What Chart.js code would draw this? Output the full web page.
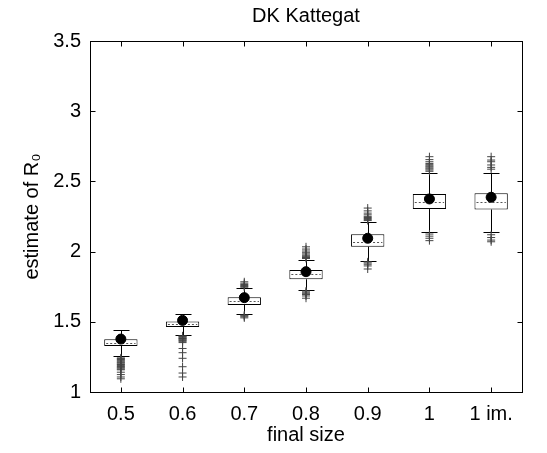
<!DOCTYPE html>
<html>
<head>
  <meta charset="UTF-8">
  <title>DK Kattegat</title>
  <script src="https://cdn.jsdelivr.net/npm/chart.js@4/dist/chart.umd.min.js"></script>
  <style>
    body { margin: 0; background: #fff; }
    #wrap { width: 547px; height: 453px; }
  </style>
</head>
<body>
  <div id="wrap"><canvas id="chartBox" width="547" height="453"></canvas></div>

  <script>
    // final size categories
    const categories = ["0.5", "0.6", "0.7", "0.8", "0.9", "1", "1 im."];
    const yTicks = [1, 1.5, 2, 2.5, 3, 3.5];
    const chartTitle = "DK Kattegat";

    // box statistics (estimate of R0)
    const q1 = [1.328, 1.463, 1.620, 1.803, 2.035, 2.303, 2.300];
    const median = [1.351, 1.482, 1.646, 1.838, 2.070, 2.355, 2.355];
    const q3 = [1.375, 1.503, 1.674, 1.869, 2.123, 2.410, 2.415];
    const whiskerLow = [1.256, 1.406, 1.556, 1.726, 1.935, 2.140, 2.140];
    const whiskerHigh = [1.440, 1.558, 1.739, 1.940, 2.213, 2.560, 2.558];
    const means = [1.377, 1.510, 1.672, 1.857, 2.095, 2.375, 2.387];

    // outliers per category
    const outliers = [
      [1.243, 1.238, 1.231, 1.226, 1.219, 1.212, 1.207, 1.200, 1.196, 1.188, 1.181, 1.176, 1.170, 1.163, 1.158, 1.141, 1.124, 1.107, 1.094],
      [1.400, 1.396, 1.391, 1.386, 1.381, 1.377, 1.372, 1.366, 1.361, 1.352, 1.310, 1.280, 1.240, 1.180, 1.135, 1.107],
      [1.746, 1.752, 1.758, 1.766, 1.775, 1.785, 1.548, 1.543, 1.536, 1.528],
      [1.951, 1.958, 1.966, 1.974, 1.983, 1.992, 2.004, 2.018, 2.034, 1.719, 1.711, 1.703, 1.694, 1.684, 1.668],
      [2.221, 2.228, 2.236, 2.243, 2.251, 2.262, 2.274, 2.290, 2.310, 1.927, 1.919, 1.910, 1.898, 1.876],
      [2.572, 2.581, 2.589, 2.596, 2.604, 2.611, 2.619, 2.628, 2.640, 2.655, 2.676, 2.125, 2.110, 2.095, 2.078],
      [2.587, 2.600, 2.617, 2.640, 2.652, 2.676, 2.120, 2.100, 2.082, 2.070]
    ];

    const fontFamily = "'Liberation Sans', Arial, Helvetica, sans-serif";
    const fontSize = 20;

    const outlierPoints = [];
    outliers.forEach((list, i) => {
      list.forEach(v => outlierPoints.push({ x: categories[i], y: v }));
    });
    const meanPoints = means.map((v, i) => ({ x: categories[i], y: v }));
    const boxRanges = categories.map((c, i) => [q1[i], q3[i]]);

    const boxParts = {
      id: "boxParts",
      beforeDatasetsDraw(chart) {
        const { ctx, scales: { x, y } } = chart;
        ctx.save();
        ctx.strokeStyle = "#000";
        ctx.lineWidth = 1;
        const capHalf = 8;
        categories.forEach((c, i) => {
          const px = Math.round(x.getPixelForValue(i)) + 0.5;
          const segs = [
            [q3[i], whiskerHigh[i]],
            [q1[i], whiskerLow[i]]
          ];
          segs.forEach(([a, b]) => {
            const ya = y.getPixelForValue(a);
            const yb = Math.round(y.getPixelForValue(b)) + 0.5;
            ctx.beginPath();
            ctx.moveTo(px, ya);
            ctx.lineTo(px, yb);
            ctx.moveTo(px - capHalf, yb);
            ctx.lineTo(px + capHalf, yb);
            ctx.stroke();
          });
        });
        ctx.restore();
      },
      afterDatasetDraw(chart, args) {
        if (args.index !== 0) return;
        const { ctx, scales: { y } } = chart;
        const meta = chart.getDatasetMeta(0);
        ctx.save();
        ctx.strokeStyle = "#555";
        ctx.lineWidth = 1;
        ctx.setLineDash([2, 2]);
        meta.data.forEach((bar, i) => {
          const half = bar.width / 2;
          const py = Math.round(y.getPixelForValue(median[i])) + 0.5;
          ctx.beginPath();
          ctx.moveTo(bar.x - half + 2, py);
          ctx.lineTo(bar.x + half - 2, py);
          ctx.stroke();
        });
        ctx.restore();
      },
      afterDraw(chart) {
        const { ctx, chartArea: a, scales: { x, y } } = chart;
        ctx.save();
        ctx.strokeStyle = "#000";
        ctx.lineWidth = 1;
        const l = Math.round(a.left) + 0.5, r = Math.round(a.right) + 0.5;
        const t = Math.round(a.top) + 0.5, b = Math.round(a.bottom) + 0.5;
        ctx.strokeRect(l, t, r - l, b - t);
        const tick = 5;
        ctx.beginPath();
        categories.forEach((c, i) => {
          const px = Math.round(x.getPixelForValue(i)) + 0.5;
          ctx.moveTo(px, b); ctx.lineTo(px, b - tick);
          ctx.moveTo(px, t); ctx.lineTo(px, t + tick);
        });
        yTicks.forEach(v => {
          const py = Math.round(y.getPixelForValue(v)) + 0.5;
          ctx.moveTo(l, py); ctx.lineTo(l + tick, py);
          ctx.moveTo(r, py); ctx.lineTo(r - tick, py);
        });
        ctx.stroke();

        // title centred over the axes
        ctx.fillStyle = "#000";
        ctx.font = fontSize + "px " + fontFamily;
        ctx.textAlign = "center";
        ctx.textBaseline = "middle";
        ctx.fillText(chartTitle, (a.left + a.right) / 2, 16);
        ctx.restore();
      }
    };

    new Chart(document.getElementById("chartBox"), {
      type: "bar",
      data: {
        labels: categories,
        datasets: [
          {
            label: "box",
            data: boxRanges,
            backgroundColor: "#fff",
            borderColor: "#000",
            borderWidth: 1,
            borderSkipped: false,
            barPercentage: 0.54,
            categoryPercentage: 1,
            order: 3
          },
          {
            type: "line",
            label: "outliers",
            data: outlierPoints,
            showLine: false,
            pointStyle: "cross",
            pointRadius: 4,
            borderColor: "#444",
            borderWidth: 1,
            order: 2
          },
          {
            type: "line",
            label: "mean",
            data: meanPoints,
            showLine: false,
            pointStyle: "circle",
            pointRadius: 5,
            backgroundColor: "#000",
            borderColor: "#000",
            order: 1
          }
        ]
      },
      options: {
        responsive: false,
        animation: false,
        layout: { padding: { top: 41, right: 25, bottom: 0, left: 0 } },
        plugins: {
          legend: { display: false },
          tooltip: { enabled: false },
          title: { display: false }
        },
        scales: {
          x: {
            type: "category",
            offset: true,
            grid: { display: false, drawTicks: false },
            border: { display: false },
            ticks: { color: "#000", padding: 10, font: { family: fontFamily, size: fontSize } },
            title: {
              display: true,
              text: "final size",
              color: "#000",
              font: { family: fontFamily, size: fontSize },
              padding: { top: 0, bottom: 6 }
            },
            afterFit(scale) { scale.height = 61; }
          },
          y: {
            min: 1,
            max: 3.5,
            grid: { display: false, drawTicks: false },
            border: { display: false },
            afterBuildTicks(scale) { scale.ticks = yTicks.map(v => ({ value: v })); },
            ticks: {
              color: "#000",
              padding: 9,
              font: { family: fontFamily, size: fontSize },
              callback: v => String(v)
            },
            title: {
              display: true,
              text: "estimate of R₀",
              color: "#000",
              font: { family: fontFamily, size: fontSize },
              padding: { top: 20, bottom: 0 }
            },
            afterFit(scale) { scale.width = 90; }
          }
        }
      },
      plugins: [boxParts]
    });
  </script>
</body>
</html>
